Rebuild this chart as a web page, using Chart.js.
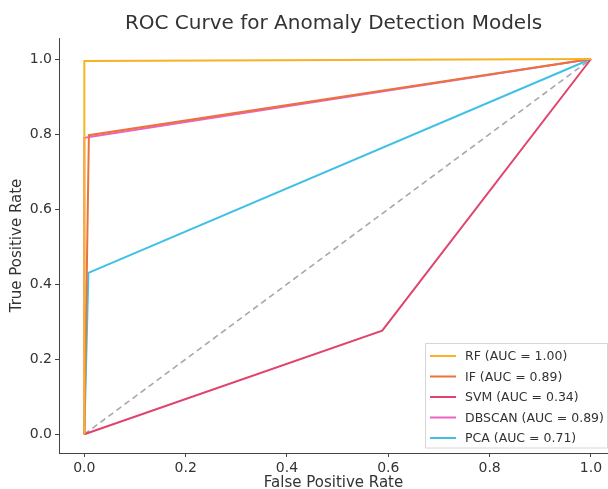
<!DOCTYPE html>
<html>
<head>
<meta charset="utf-8">
<script src="https://cdn.jsdelivr.net/npm/chart.js@4.4.1/dist/chart.umd.min.js"></script>
<style>
  html, body { margin: 0; padding: 0; background: #ffffff; }
  #wrap { width: 608px; height: 489px; position: relative; }
</style>
</head>
<body>
<div id="wrap"><canvas id="roc"></canvas></div>
<script>
// ROC points per model (false positive rate, true positive rate)
const modelNames = ['RF', 'IF', 'SVM', 'DBSCAN', 'PCA'];
const aucValues = ['1.00', '0.89', '0.34', '0.89', '0.71'];
const rfFpr = [0, 0, 1];
const rfTpr = [0, 0.995, 1];
const ifFpr = [0, 0.009, 1];
const ifTpr = [0, 0.797, 1];
const svmFpr = [0, 0.588, 1];
const svmTpr = [0, 0.276, 1];
const dbscanFpr = [0, 0, 1];
const dbscanTpr = [0, 0.79, 1];
const pcaFpr = [0, 0.008, 1];
const pcaTpr = [0, 0.43, 1];
const chanceFpr = [0, 1];
const chanceTpr = [0, 1];
const tickValues = [0, 0.2, 0.4, 0.6, 0.8, 1.0];

const lineColors = ['#f7b324', '#e9723d', '#e0446c', '#eb62c2', '#40c0e7'];
const fprList = [rfFpr, ifFpr, svmFpr, dbscanFpr, pcaFpr];
const tprList = [rfTpr, ifTpr, svmTpr, dbscanTpr, pcaTpr];

const toPoints = (xs, ys) => xs.map((x, i) => ({ x: x, y: ys[i] }));

const datasets = modelNames.map((name, i) => ({
    label: name + ' (AUC = ' + aucValues[i] + ')',
    data: toPoints(fprList[i], tprList[i]),
    borderColor: lineColors[i],
    borderWidth: 2,
    pointRadius: 0,
    fill: false,
    tension: 0
}));

// diagonale acak, tanpa entri legenda
datasets.push({
    label: 'chance',
    data: toPoints(chanceFpr, chanceTpr),
    borderColor: '#a8a8a8',
    borderWidth: 1.6,
    borderDash: [6, 4],
    pointRadius: 0,
    fill: false,
    hideInLegend: true
});

// legenda di dalam area plot (kanan bawah)
const insideLegend = {
    id: 'insideLegend',
    afterDraw(chart) {
        const ctx = chart.ctx;
        const items = chart.data.datasets.filter(d => !d.hideInLegend);
        const left = 425, top = 343, width = 182, rowH = 20.5;
        const height = items.length * rowH + 2;
        ctx.save();
        ctx.fillStyle = 'rgba(255,255,255,0.9)';
        ctx.strokeStyle = '#d6d6d6';
        ctx.lineWidth = 1;
        ctx.beginPath();
        ctx.rect(left + 0.5, top + 0.5, width, height);
        ctx.fill();
        ctx.stroke();
        ctx.font = '12.5px "DejaVu Sans"';
        ctx.textBaseline = 'middle';
        items.forEach((d, i) => {
            const y = top + 13 + i * rowH;
            ctx.strokeStyle = d.borderColor;
            ctx.lineWidth = 2;
            ctx.beginPath();
            ctx.moveTo(430, y);
            ctx.lineTo(456, y);
            ctx.stroke();
            ctx.fillStyle = '#333333';
            ctx.fillText(d.label, 465, y + 1);
        });
        ctx.restore();
    }
};

const axisTicks = {
    color: '#333333',
    font: { family: 'DejaVu Sans', size: 14 },
    callback: v => Number(v).toFixed(1),
    autoSkip: false,
    maxRotation: 0,
    padding: 3
};

new Chart(document.getElementById('roc'), {
    type: 'line',
    data: { datasets: datasets },
    options: {
        responsive: true,
        maintainAspectRatio: false,
        animation: false,
        layout: { padding: { left: 0, right: 0, top: 0, bottom: 0 } },
        plugins: {
            legend: { display: false },
            tooltip: { enabled: false },
            title: {
                display: true,
                fullSize: false,
                text: 'ROC Curve for Anomaly Detection Models',
                color: '#333333',
                font: { family: 'DejaVu Sans', size: 20, weight: 'normal' },
                padding: { top: 12, bottom: 2 }
            }
        },
        scales: {
            x: {
                type: 'linear',
                min: -0.05,
                max: 1.0336,
                afterBuildTicks: axis => { axis.ticks = tickValues.map(v => ({ value: v })); },
                afterFit: axis => { axis.height = 36; },
                grid: { drawOnChartArea: false, drawTicks: true, tickLength: 4, color: '#444444' },
                border: { display: true, color: '#444444', width: 1 },
                ticks: axisTicks,
                title: {
                    display: true,
                    text: 'False Positive Rate',
                    color: '#333333',
                    font: { family: 'DejaVu Sans', size: 15 },
                    padding: { top: 0, bottom: -3 }
                }
            },
            y: {
                type: 'linear',
                min: -0.05,
                max: 1.056,
                afterBuildTicks: axis => { axis.ticks = tickValues.map(v => ({ value: v })); },
                afterFit: axis => { axis.width = 59; },
                grid: { drawOnChartArea: false, drawTicks: true, tickLength: 4, color: '#444444' },
                border: { display: true, color: '#444444', width: 1 },
                ticks: axisTicks,
                title: {
                    display: true,
                    text: 'True Positive Rate',
                    color: '#333333',
                    font: { family: 'DejaVu Sans', size: 15 },
                    padding: { top: 8, bottom: 0 }
                }
            }
        }
    },
    plugins: [insideLegend]
});
</script>
</body>
</html>
